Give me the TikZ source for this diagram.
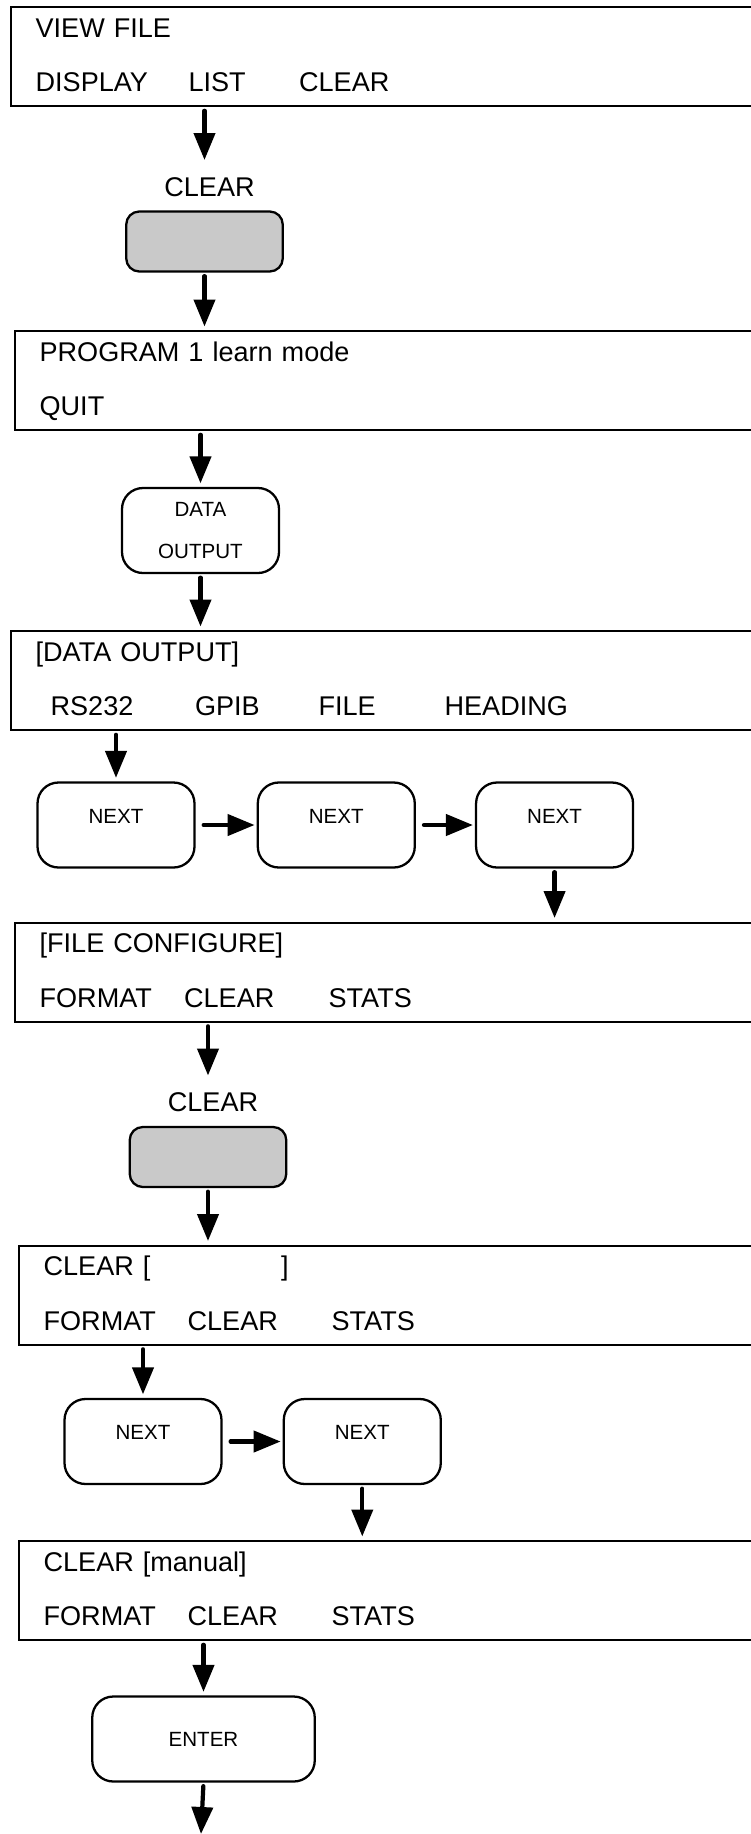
\documentclass[tikz,border=0pt]{standalone}
\usepackage{fontspec}
\setmainfont{Liberation Sans}
\usepackage{tikz}
\usetikzlibrary{arrows.meta,positioning}
\newcommand{\col}[2]{\makebox[#1][l]{#2}}

\begin{document}
\begin{tikzpicture}[
    screen/.style={draw, line width=1.3pt, anchor=north west, minimum width=16cm, text width=15cm, align=left, inner xsep=0.44cm, inner ysep=0pt, text height=0.6cm, text depth=1.38cm, font=\fontsize{15.4}{31}\selectfont},
    key/.style={draw, line width=1.3pt, rounded corners=0.42cm, minimum width=3.14cm, minimum height=1.7cm, align=center, font=\fontsize{11.7}{23.7}\selectfont},
    nextkey/.style={key, text depth=0.36cm},
    hold/.style={draw, line width=1.3pt, fill=black!21, rounded corners=0.26cm, minimum width=3.13cm, minimum height=1.2cm},
    caption/.style={inner xsep=0pt, inner ysep=0.27cm, font=\fontsize{15.4}{18}\selectfont},
    flow/.style={-{Triangle[length=0.54cm,width=0.42cm]}, line width=2.4pt, line cap=round, shorten <=0.07cm, shorten >=0.07cm},
    side/.style={flow, shorten <=0.16cm, shorten >=0.04cm}
]
\path[use as bounding box, clip] (0,0) rectangle (15.02,-36.68);

\node[screen] (view) at (0.19,-0.12) {VIEW FILE\\ \col{3.06cm}{DISPLAY}\col{2.21cm}{LIST}CLEAR};
\node[hold] (clr1) at (4.09,-4.83) {};
\node[caption, above=0cm of clr1, xshift=0.1cm] (clr1lbl) {CLEAR};

\node[screen] (prog) at (0.27,-6.6) {PROGRAM 1 learn mode\\QUIT};
\node[key] (dout) at (4.01,-10.61) {DATA\\OUTPUT};

\node[screen] (dataout) at (0.19,-12.6) {[DATA OUTPUT]\\ \hspace*{0.3cm}\col{2.89cm}{RS232}\col{2.47cm}{GPIB}\col{2.52cm}{FILE}HEADING};
\node[nextkey] (rsnext) at (2.32,-16.5) {NEXT};
\node[nextkey, right=1.22cm of rsnext] (rsnext2) {NEXT};
\node[nextkey, right=1.18cm of rsnext2] (rsnext3) {NEXT};

\node[screen] (fileconf) at (0.27,-18.43) {[FILE CONFIGURE]\\ \col{2.89cm}{FORMAT}\col{2.89cm}{CLEAR}STATS};
\node[hold] (clr2) at (4.16,-23.14) {};
\node[caption, above=0cm of clr2, xshift=0.1cm] (clr2lbl) {CLEAR};

\node[screen] (clrset) at (0.35,-24.89) {\col{4.75cm}{CLEAR [}]\\ \col{2.88cm}{FORMAT}\col{2.88cm}{CLEAR}STATS};
\node[nextkey] (fmtnext) at (2.86,-28.83) {NEXT};
\node[nextkey, right=1.2cm of fmtnext] (fmtnext2) {NEXT};

\node[screen] (manual) at (0.35,-30.8) {CLEAR [manual]\\ \col{2.88cm}{FORMAT}\col{2.88cm}{CLEAR}STATS};
\node[key, minimum width=4.45cm] (enter) at (4.07,-34.78) {ENTER};
\coordinate (out) at (4.02,-36.68);

% connectors
\draw[flow] (view.south -| clr1) -- (clr1 |- clr1lbl.north);
\draw[flow] (clr1.south) -- (clr1 |- prog.north);
\draw[flow] (prog.south -| dout) -- (dout.north);
\draw[flow] (dout.south) -- (dout |- dataout.north);
\draw[flow] (dataout.south -| rsnext) -- (rsnext.north);
\draw[side] (rsnext) -- (rsnext2);
\draw[side] (rsnext2) -- (rsnext3);
\draw[flow] (rsnext3.south) -- (rsnext3 |- fileconf.north);
\draw[flow] (fileconf.south -| clr2) -- (clr2 |- clr2lbl.north);
\draw[flow] (clr2.south) -- (clr2 |- clrset.north);
\draw[flow] (clrset.south -| fmtnext) -- (fmtnext.north);
\draw[side] (fmtnext) -- (fmtnext2);
\draw[flow] (fmtnext2.south) -- (fmtnext2 |- manual.north);
\draw[flow] (manual.south -| enter) -- (enter.north);
\draw[flow, shorten >=0pt] (enter.south) -- (out);
\end{tikzpicture}
\end{document}
